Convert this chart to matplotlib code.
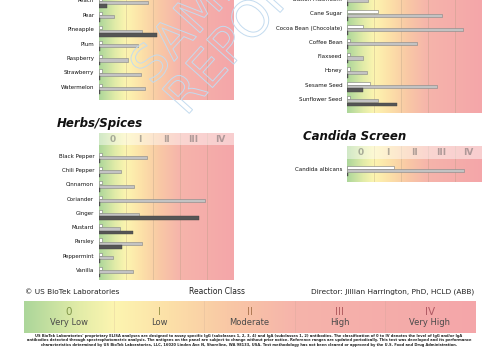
import numpy as np
import matplotlib
matplotlib.use('Agg')
import matplotlib.pyplot as plt
from matplotlib.colors import LinearSegmentedColormap
from matplotlib.textpath import TextPath
from matplotlib.patches import PathPatch
from matplotlib.transforms import Affine2D, IdentityTransform
from matplotlib.font_manager import FontProperties

# ---- data (reaction class units, 0..5) ----
classes = ['0', 'I', 'II', 'III', 'IV']
class_names = ['Very Low', 'Low', 'Moderate', 'High', 'Very High']

fruit_names = ['Peach', 'Pear', 'Pineapple', 'Plum', 'Raspberry', 'Strawberry', 'Watermelon']
fruit_white = [0.1, 0.1, 0.1, 0.1, 0.1, 0.1, 0.1]
fruit_gray = [1.83, 0.56, 1.60, 1.44, 1.06, 1.57, 1.69]
fruit_dark = [0.28, 0.03, 2.14, 0.03, 0.03, 0.03, 0.03]

misc_names = ['Button Mushroom', 'Cane Sugar', 'Cocoa Bean (Chocolate)', 'Coffee Bean',
              'Flaxseed', 'Honey', 'Sesame Seed', 'Sunflower Seed']
misc_white = [0.1, 1.14, 0.60, 0.1, 0.1, 0.1, 0.84, 0.1]
misc_gray = [0.77, 3.53, 4.28, 2.59, 0.59, 0.74, 3.33, 1.14]
misc_dark = [0.03, 0.03, 0.03, 0.03, 0.03, 0.03, 0.59, 1.85]

herb_names = ['Black Pepper', 'Chili Pepper', 'Cinnamon', 'Coriander', 'Ginger',
              'Mustard', 'Parsley', 'Peppermint', 'Vanilla']
herb_white = [0.1, 0.1, 0.1, 0.1, 0.1, 0.1, 0.1, 0.1, 0.1]
herb_gray = [1.79, 0.80, 1.30, 3.93, 1.49, 0.77, 1.59, 0.53, 1.26]
herb_dark = [0.03, 0.03, 0.03, 0.03, 3.70, 1.27, 0.85, 0.03, 0.03]

candida_names = ['Candida albicans']
candida_white = [1.73]
candida_gray = [4.35]
candida_dark = [0.03]

W, H = 500, 360
fig = plt.figure(figsize=(W / 100, H / 100), dpi=100)
fig.patch.set_facecolor('white')

cmap = LinearSegmentedColormap.from_list('rc', [
    (0.0, '#acd69a'), (0.12, '#e2eca8'), (0.2, '#fdf5b0'), (0.32, '#fce0a8'),
    (0.45, '#f9c8a5'), (0.6, '#f6b4ab'), (1.0, '#f4a6a9')])
grad = np.linspace(0, 1, 256).reshape(1, -1)


def px_axes(x0, y0, x1, y1):
    # pixel box, y measured from top
    return fig.add_axes([x0 / W, 1 - y1 / H, (x1 - x0) / W, (y1 - y0) / H])


def panel(ax, names, white, gray, dark, ytop, ybot, band=None):
    y = np.arange(len(names))
    ax.imshow(grad, extent=(0, 5, ybot, ytop), aspect='auto', cmap=cmap, zorder=0)
    for xv in [1, 2, 3, 4]:
        ax.axvline(xv, color='#b09a80', lw=0.5, alpha=0.45, zorder=1)
    ax.barh(y - 0.1, white, height=0.22, color='white', edgecolor='#7a7a7a', lw=0.4, zorder=3)
    ax.barh(y + 0.13, gray, height=0.22, color='#c3c3c3', edgecolor='#858585', lw=0.4, zorder=3)
    ax.barh(y + 0.38, dark, height=0.26, color='#555555', edgecolor='#444444', lw=0.3, zorder=3)
    if band is not None:
        ax.axhspan(ytop, band, color='white', alpha=0.45, lw=0, zorder=2)
        for i, c in enumerate(classes):
            ax.text(i + 0.5, (ytop + band) / 2, c, ha='center', va='center',
                    fontsize=6.5, fontweight='bold', color='#555555', alpha=0.45, zorder=4)
    ax.set_xlim(0, 5)
    ax.set_ylim(ybot, ytop)
    ax.set_xticks([])
    ax.set_yticks(y, names, fontsize=4, color='#111111')
    ax.tick_params(length=0, pad=3.5)
    for s in ax.spines.values():
        s.set_visible(False)


ax1 = px_axes(99, -10.3, 234, 100)
panel(ax1, fruit_names, fruit_white, fruit_gray, fruit_dark, -0.75, 6.91)

ax2 = px_axes(347, -11.8, 482, 113)
panel(ax2, misc_names, misc_white, misc_gray, misc_dark, -0.75, 7.98)

ax3 = px_axes(99, 133.3, 234, 280)
panel(ax3, herb_names, herb_white, herb_gray, herb_dark, -1.57, 8.7, band=-0.75)

ax4 = px_axes(347, 146, 482, 181.7)
panel(ax4, candida_names, candida_white, candida_gray, candida_dark, -1.61, 0.89, band=-0.68)

fig.text(57 / W, 1 - 124 / H, 'Herbs/Spices', ha='left', va='center',
         fontsize=8.5, fontweight='bold', fontstyle='italic', color='#111111')
fig.text(303 / W, 1 - 137 / H, 'Candida Screen', ha='left', va='center',
         fontsize=8.5, fontweight='bold', fontstyle='italic', color='#111111')

# footer line
fig.text(25 / W, 1 - 292 / H, '\u00a9 US BioTek Laboratories', ha='left', va='center',
         fontsize=5.3, color='#222222')
fig.text(217 / W, 1 - 292 / H, 'Reaction Class', ha='center', va='center',
         fontsize=5.5, color='#222222')
fig.text(474 / W, 1 - 292 / H, 'Director: Jillian Harrington, PhD, HCLD (ABB)', ha='right',
         va='center', fontsize=5.3, color='#222222')

# reaction class legend bar
axl = px_axes(24, 300.7, 475, 332.7)
axl.imshow(grad, extent=(0, 5, 0, 1), aspect='auto', cmap=cmap, zorder=0)
for xv in [1, 2, 3, 4]:
    axl.axvline(xv, color='#c0a090', lw=0.4, alpha=0.35)
num_colors = ['#7f9548', '#a09a50', '#b07a55', '#b35f62', '#b05a64']
for i, (c, n) in enumerate(zip(classes, class_names)):
    axl.text(i + 0.5, 0.66, c, ha='center', va='center', fontsize=7.5, color=num_colors[i])
    axl.text(i + 0.5, 0.31, n, ha='center', va='center', fontsize=6, color='#4a4a4a')
axl.set_xlim(0, 5)
axl.set_ylim(0, 1)
axl.axis('off')

notes = [
    "US BioTek Laboratories' proprietary ELISA analyses are designed to assay specific IgG (subclasses 1, 2, 3, 4) and IgA (subclasses 1, 2) antibodies. The classification of 0 to IV denotes the level of IgG and/or IgA",
    "antibodies detected through spectrophotometric analysis. The antigens on the panel are subject to change without prior notice. Reference ranges are updated periodically. This test was developed and its performance",
    "characteristics determined by US BioTek Laboratories, LLC, 16020 Linden Ave N, Shoreline, WA 98133, USA. Test methodology has not been cleared or approved by the U.S. Food and Drug Administration.",
]
for k, line in enumerate(notes):
    fig.text(249 / W, 1 - (335.7 + 4.5 * k) / H, line, ha='center', va='center',
             fontsize=2.6, fontweight='bold', color='#222222')

# watermark
fp = FontProperties(family='DejaVu Sans')
for txt, (x, y) in [('SAMPLE', (152, 86)), ('REPORT', (186, 117))]:
    tp = TextPath((0, 0), txt, size=50, prop=fp)
    tr = Affine2D().rotate_deg(48).translate(x, H - y)
    patch = PathPatch(tr.transform_path(tp), facecolor='none', edgecolor='#c3dbef',
                      lw=0.7, transform=IdentityTransform(), zorder=10)
    fig.add_artist(patch)

fig.savefig('out.png', dpi=100)
